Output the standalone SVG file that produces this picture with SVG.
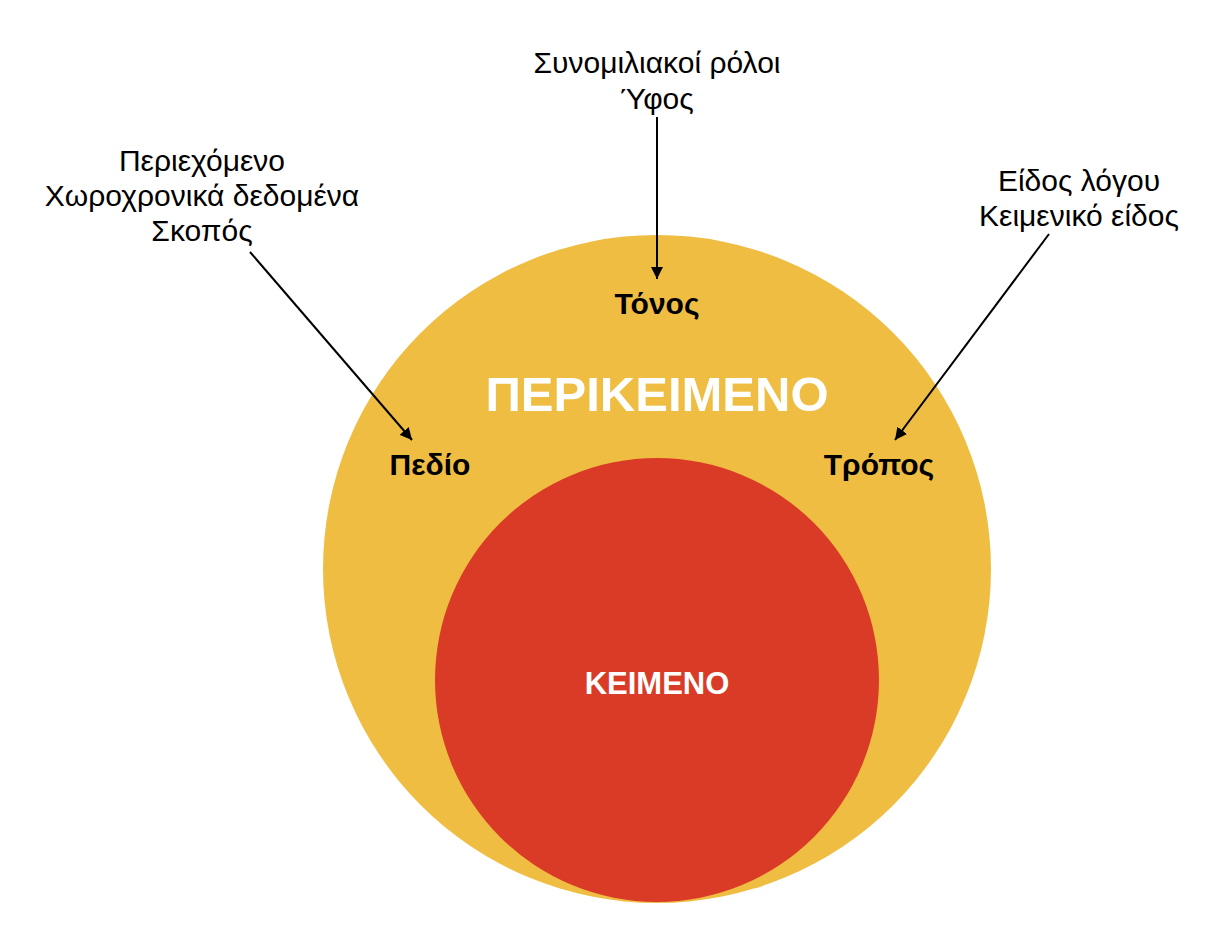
<svg xmlns="http://www.w3.org/2000/svg" width="1227" height="942" viewBox="0 0 1227 942">
<defs>
<style>
.lbl{font-family:"Liberation Sans",Arial,sans-serif;font-size:30px;fill:#000;text-anchor:middle}
.bold{font-family:"Liberation Sans",Arial,sans-serif;font-weight:bold;font-size:30px;fill:#000;text-anchor:middle}
.conn{stroke:#000;stroke-width:2;fill:none;marker-end:url(#ah)}
</style>
<marker id="ah" viewBox="0 0 10 10" refX="10" refY="5" markerWidth="6" markerHeight="6" orient="auto" markerUnits="strokeWidth">
<path d="M0,0 L10,5 L0,10 z" fill="#000"/>
</marker>
</defs>
<rect width="1227" height="942" fill="#fff"/>
<g id="perikeimeno">
<circle cx="657" cy="569" r="334" fill="#EFBD42"/>
<text x="657" y="411" font-family="Liberation Sans,Arial,sans-serif" font-weight="bold" font-size="49" fill="#fff" text-anchor="middle">ΠΕΡΙΚΕΙΜΕΝΟ</text>
</g>
<g id="keimeno">
<circle cx="657" cy="680" r="222" fill="#D93B26"/>
<text x="657" y="694" font-family="Liberation Sans,Arial,sans-serif" font-weight="bold" font-size="31" fill="#fff" text-anchor="middle">ΚΕΙΜΕΝΟ</text>
</g>
<g id="tonos"><text class="bold" x="657" y="314">Τόνος</text></g>
<g id="pedio"><text class="bold" x="430" y="475">Πεδίο</text></g>
<g id="tropos"><text class="bold" x="879" y="475">Τρόπος</text></g>
<g id="top-notes">
<text class="lbl" x="657" y="73">Συνομιλιακοί ρόλοι</text>
<text class="lbl" x="657" y="109">Ύφος</text>
</g>
<g id="left-notes">
<text class="lbl" x="202" y="171">Περιεχόμενο</text>
<text class="lbl" x="202" y="206">Χωροχρονικά δεδομένα</text>
<text class="lbl" x="202" y="241">Σκοπός</text>
</g>
<g id="right-notes">
<text class="lbl" x="1079" y="191">Είδος λόγου</text>
<text class="lbl" x="1079" y="226">Κειμενικό είδος</text>
</g>
<g id="connectors">
<line class="conn" x1="250" y1="252" x2="412" y2="440"/>
<line class="conn" x1="657" y1="117" x2="657" y2="279"/>
<line class="conn" x1="1049" y1="234" x2="895" y2="440"/>
</g>
</svg>
